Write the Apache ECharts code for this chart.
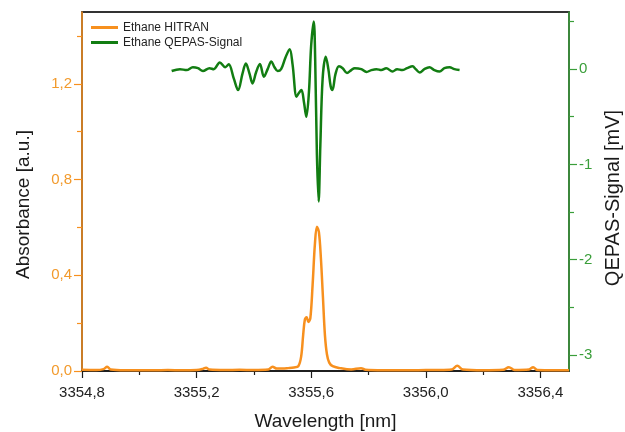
<!DOCTYPE html>
<html>
<head>
<meta charset="utf-8">
<script src="https://cdn.jsdelivr.net/npm/echarts@6/dist/echarts.min.js"></script>
<style>html,body{margin:0;padding:0;background:#fff}#c{width:625px;height:432px}</style>
</head>
<body>
<div id="c"></div>
<script>
// ---- data ----
var hitranX = [3354.80,3354.85,3354.875,3354.888,3354.90,3354.95,3355.00,3355.05,3355.10,3355.15,3355.20,3355.22,3355.233,3355.245,3355.30,3355.35,3355.40,3355.45,3355.465,3355.48,3355.50,3355.52,3355.54,3355.555,3355.565,3355.572,3355.578,3355.584,3355.590,3355.597,3355.605,3355.613,3355.620,3355.627,3355.634,3355.641,3355.648,3355.655,3355.663,3355.675,3355.70,3355.74,3355.774,3355.79,3355.85,3355.90,3355.95,3356.00,3356.05,3356.09,3356.11,3356.13,3356.20,3356.27,3356.29,3356.31,3356.36,3356.375,3356.39,3356.45,3356.50];
var hitranY = [0.005,0.004,0.008,0.018,0.006,0.003,0.003,0.003,0.004,0.003,0.004,0.008,0.014,0.006,0.004,0.005,0.004,0.006,0.018,0.010,0.010,0.012,0.015,0.02,0.06,0.15,0.215,0.225,0.205,0.22,0.36,0.53,0.603,0.58,0.47,0.31,0.15,0.07,0.035,0.02,0.012,0.006,0.012,0.005,0.003,0.003,0.003,0.004,0.004,0.006,0.022,0.006,0.003,0.005,0.016,0.004,0.006,0.016,0.004,0.003,0.003];
var qepasX = [3355.113,3355.142,3355.165,3355.187,3355.205,3355.222,3355.245,3355.260,3355.281,3355.300,3355.312,3355.330,3355.345,3355.360,3355.372,3355.385,3355.395,3355.408,3355.421,3355.435,3355.448,3355.461,3355.472,3355.483,3355.495,3355.510,3355.525,3355.535,3355.549,3355.557,3355.566,3355.575,3355.583,3355.592,3355.600,3355.609,3355.614,3355.620,3355.626,3355.632,3355.640,3355.651,3355.660,3355.668,3355.674,3355.685,3355.697,3355.710,3355.725,3355.740,3355.752,3355.775,3355.793,3355.810,3355.828,3355.845,3355.862,3355.884,3355.900,3355.918,3355.935,3355.954,3355.965,3355.979,3355.995,3356.013,3356.030,3356.048,3356.065,3356.083,3356.100,3356.118];
var qepasY = [-0.02,0.00,-0.01,0.02,0.01,-0.02,0.01,0.00,0.07,0.02,0.05,-0.10,-0.22,-0.05,0.06,-0.05,-0.15,-0.03,0.055,-0.08,0.00,0.08,0.02,-0.02,0.00,0.12,0.21,0.05,-0.29,-0.25,-0.22,-0.35,-0.50,-0.25,0.25,0.50,0.10,-0.90,-1.39,-0.80,-0.10,0.13,0.00,-0.18,-0.22,-0.05,0.03,0.01,-0.04,-0.01,0.01,0.00,-0.03,-0.01,0.00,-0.01,0.01,-0.025,0.00,-0.01,0.01,0.03,0.00,-0.035,0.00,0.02,-0.01,-0.025,0.01,0.02,0.00,-0.01];
var xMajorTicks = [3354.8,3355.2,3355.6,3356.0,3356.4];
var xMinorTicks = [3355.0,3355.4,3355.8,3356.2];
var leftMajorTicks = [0,0.4,0.8,1.2];
var leftMinorTicks = [0.2,0.6,1.0,1.4];
var rightMajorTicks = [-3,-2,-1,0];
var rightMinorTicks = [-2.5,-1.5,-0.5,0.5];
var seriesNames = ['Ethane HITRAN','Ethane QEPAS-Signal'];

var ORANGE = '#F7901E', ORANGE_T = '#F29A2C', GREEN = '#127D12', GREEN_A = '#3A9E3A';
var FONT = 'Liberation Sans, Arial, sans-serif';
function comma(v){ return (Math.round(v*10)/10).toFixed(1).replace('.', ','); }
function pairs(xs, ys){ return xs.map(function(x,i){ return [x, ys[i]]; }); }

var chart = echarts.init(document.getElementById('c'), null, {renderer:'canvas'});
chart.setOption({
  animation:false,
  textStyle:{fontFamily:FONT},
  grid:{left:82,right:56,top:12,bottom:61,show:true,borderColor:'#333',borderWidth:1.8,backgroundColor:'transparent',containLabel:false,outerBoundsMode:'none'},
  legend:{
    orient:'vertical', left:86, top:16, itemWidth:27, itemHeight:3, itemGap:2, icon:'rect',
    textStyle:{fontSize:12,color:'#222',fontFamily:FONT,lineHeight:13},
    data:seriesNames
  },
  xAxis:[{
    type:'value', min:3354.8, max:3356.5, position:'bottom',
    name:'Wavelength [nm]', nameLocation:'middle', nameGap:41,
    nameTextStyle:{fontSize:19,color:'#1a1a1a',fontFamily:FONT},
    axisLine:{onZero:false,lineStyle:{color:'#1a1a1a',width:1.5}},
    axisTick:{show:true,length:7,inside:false,customValues:xMajorTicks,lineStyle:{color:'#1a1a1a',width:1.2}},
    axisLabel:{customValues:xMajorTicks,formatter:comma,fontSize:15,color:'#222',margin:14,fontFamily:FONT},
    splitLine:{show:false}
  },{
    type:'value', min:3354.8, max:3356.5, position:'bottom',
    axisLine:{show:false,onZero:false},
    axisTick:{show:true,length:4,customValues:xMinorTicks,lineStyle:{color:'#1a1a1a',width:1.2}},
    axisLabel:{show:false}, splitLine:{show:false}
  }],
  yAxis:[{
    type:'value', min:0, max:1.5, position:'left',
    name:'Absorbance [a.u.]', nameLocation:'middle', nameGap:49, nameRotate:90,
    nameTextStyle:{fontSize:19,color:'#1a1a1a',fontFamily:FONT,padding:[0,26,0,0]},
    axisLine:{show:true,onZero:false,lineStyle:{color:ORANGE,width:1.5}},
    axisTick:{show:true,length:8,customValues:leftMajorTicks,lineStyle:{color:ORANGE,width:1.2}},
    axisLabel:{customValues:leftMajorTicks,formatter:comma,fontSize:15,color:ORANGE_T,margin:10,fontFamily:FONT},
    splitLine:{show:false}
  },{
    type:'value', min:-3.17, max:0.6, position:'right',
    name:'QEPAS-Signal [mV]', nameLocation:'middle', nameGap:34, nameRotate:90,
    nameTextStyle:{fontSize:20,color:'#1a1a1a',fontFamily:FONT,padding:[0,13,0,0]},
    axisLine:{show:true,onZero:false,lineStyle:{color:GREEN_A,width:1.5}},
    axisTick:{show:true,length:8,customValues:rightMajorTicks,lineStyle:{color:GREEN_A,width:1.2}},
    axisLabel:{customValues:rightMajorTicks,formatter:function(v){return String(Math.round(v));},fontSize:15,color:GREEN_A,margin:10,fontFamily:FONT},
    splitLine:{show:false}
  },{
    type:'value', min:0, max:1.5, position:'left',
    axisLine:{show:false,onZero:false},
    axisTick:{show:true,length:5,customValues:leftMinorTicks,lineStyle:{color:ORANGE,width:1.2}},
    axisLabel:{show:false}, splitLine:{show:false}
  },{
    type:'value', min:-3.17, max:0.6, position:'right',
    axisLine:{show:false,onZero:false},
    axisTick:{show:true,length:5,customValues:rightMinorTicks,lineStyle:{color:GREEN_A,width:1.2}},
    axisLabel:{show:false}, splitLine:{show:false}
  }],
  series:[{
    name:seriesNames[0], type:'line', xAxisIndex:0, yAxisIndex:0,
    data:pairs(hitranX, hitranY), showSymbol:false, smooth:0.35,
    lineStyle:{color:ORANGE,width:2.5}, itemStyle:{color:ORANGE}
  },{
    name:seriesNames[1], type:'line', xAxisIndex:0, yAxisIndex:1,
    data:pairs(qepasX, qepasY), showSymbol:false, smooth:0.35,
    lineStyle:{color:GREEN,width:2.5}, itemStyle:{color:GREEN}
  }]
});
</script>
</body>
</html>
